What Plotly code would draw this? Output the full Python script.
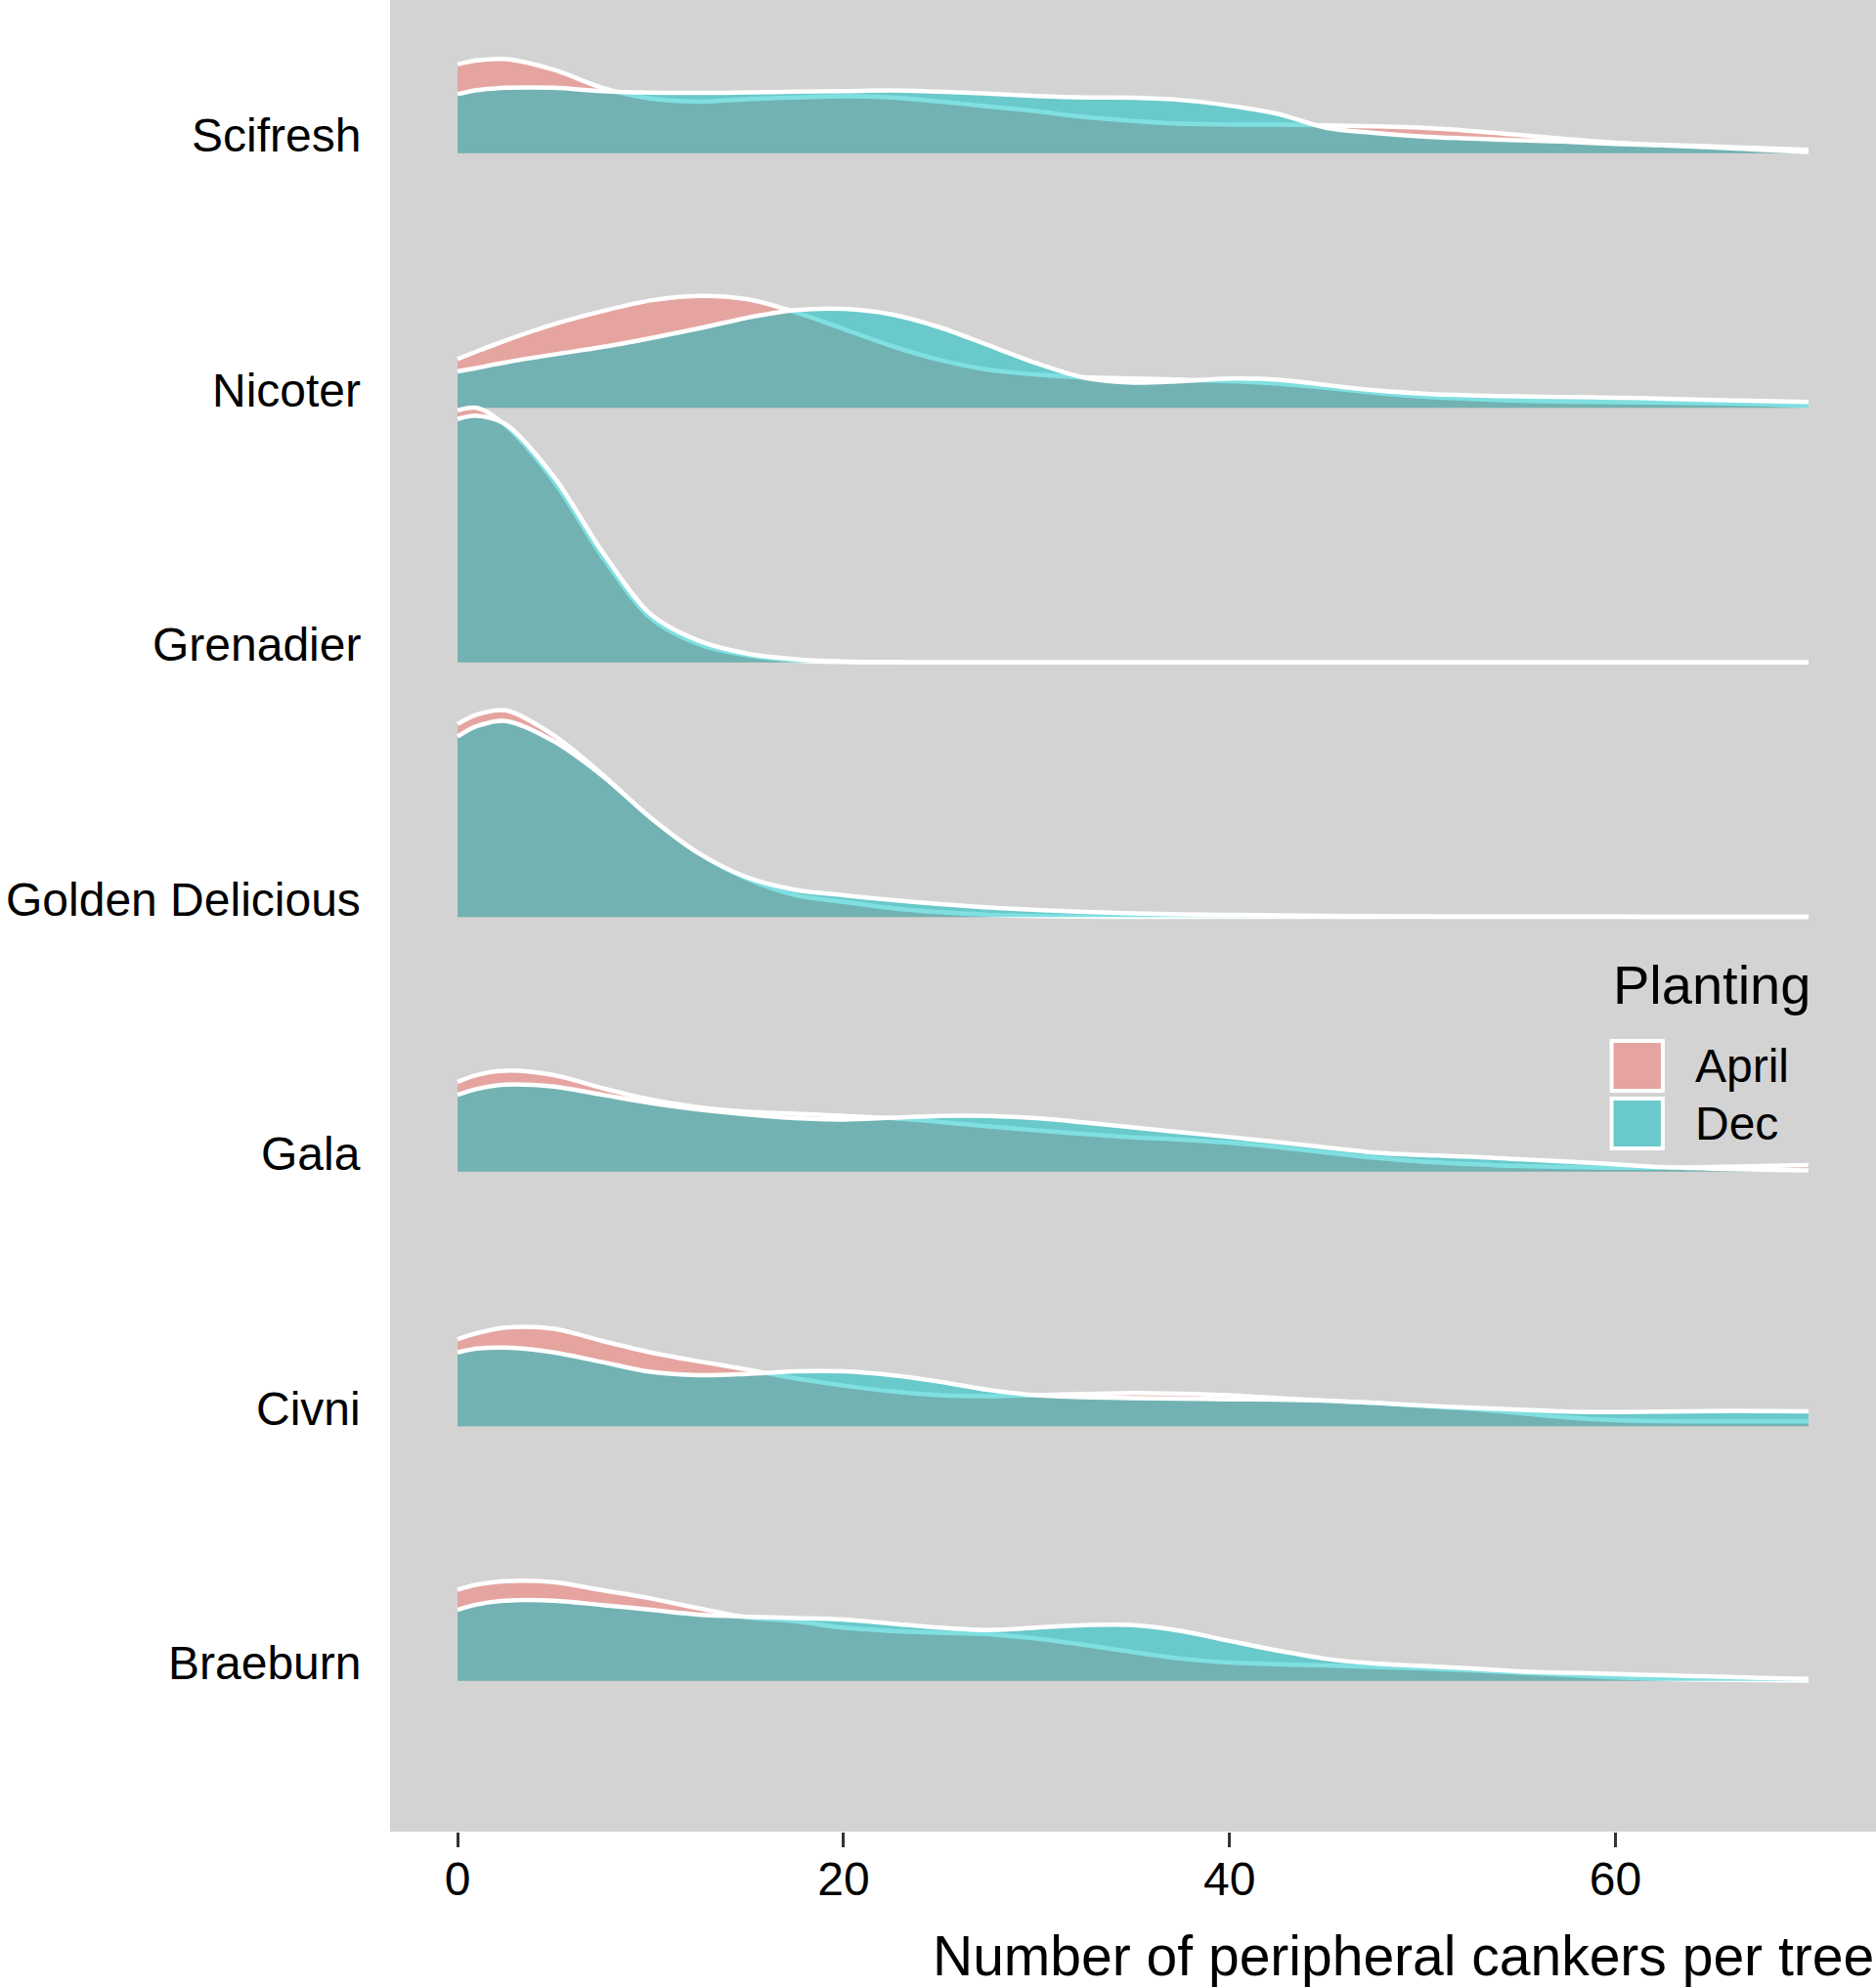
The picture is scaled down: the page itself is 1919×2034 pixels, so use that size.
import plotly.graph_objects as go

# ridge heights, in units of the row spacing
cultivars = ["Braeburn", "Civni", "Gala", "Golden Delicious", "Grenadier", "Nicoter", "Scifresh"]
plantings = ["April", "Dec"]
cankers = [0, 1, 2.5, 5, 7.5, 10, 12.5, 15, 17.5, 20, 22.5, 25, 27.5, 30, 32.5, 35,
           37.5, 40, 42.5, 45, 47.5, 50, 52.5, 55, 57.5, 60, 62.5, 65, 67.5, 70]

scifresh_april = [0.349, 0.365, 0.370, 0.328, 0.257, 0.215, 0.203, 0.212, 0.219, 0.224, 0.219, 0.203, 0.184, 0.165, 0.142,
                  0.127, 0.116, 0.113, 0.113, 0.110, 0.106, 0.100, 0.088, 0.072, 0.056, 0.042, 0.033, 0.027, 0.020, 0.014]
scifresh_dec = [0.232, 0.248, 0.257, 0.257, 0.244, 0.238, 0.237, 0.239, 0.242, 0.244, 0.247, 0.242, 0.234, 0.225, 0.219,
                0.218, 0.209, 0.187, 0.155, 0.100, 0.080, 0.066, 0.058, 0.051, 0.045, 0.037, 0.031, 0.023, 0.014, 0.005]
nicoter_april = [0.192, 0.222, 0.265, 0.329, 0.380, 0.422, 0.440, 0.427, 0.376, 0.310, 0.243, 0.188, 0.150, 0.131, 0.120,
                 0.115, 0.111, 0.105, 0.095, 0.079, 0.060, 0.044, 0.035, 0.028, 0.024, 0.022, 0.020, 0.018, 0.015, 0.008]
nicoter_dec = [0.143, 0.157, 0.179, 0.210, 0.239, 0.274, 0.312, 0.354, 0.384, 0.389, 0.367, 0.316, 0.246, 0.175, 0.118,
               0.099, 0.105, 0.115, 0.111, 0.090, 0.069, 0.056, 0.049, 0.045, 0.042, 0.040, 0.036, 0.031, 0.027, 0.023]
grenadier_april = [0.990, 1.000, 0.930, 0.710, 0.415, 0.175, 0.072, 0.028, 0.008, 0.002, 0.001, 0.0, 0.0, 0.0, 0.0,
                   0.0, 0.0, 0.0, 0.0, 0.0, 0.0, 0.0, 0.0, 0.0, 0.0, 0.0, 0.0, 0.0, 0.0, 0.0]
grenadier_dec = [0.956, 0.969, 0.935, 0.728, 0.435, 0.190, 0.085, 0.035, 0.013, 0.004, 0.001, 0.0, 0.0, 0.0, 0.0,
                 0.0, 0.0, 0.0, 0.0, 0.0, 0.0, 0.0, 0.0, 0.0, 0.0, 0.0, 0.0, 0.0, 0.0, 0.0]
golden_april = [0.758, 0.795, 0.812, 0.713, 0.560, 0.390, 0.250, 0.150, 0.086, 0.060, 0.035, 0.019, 0.009, 0.004, 0.002,
                0.001, 0.001, 0.001, 0.001, 0.001, 0.001, 0.001, 0.001, 0.001, 0.001, 0.001, 0.001, 0.001, 0.001, 0.001]
golden_dec = [0.709, 0.750, 0.770, 0.690, 0.555, 0.390, 0.250, 0.156, 0.107, 0.086, 0.067, 0.051, 0.038, 0.028, 0.020,
              0.015, 0.011, 0.009, 0.007, 0.005, 0.004, 0.003, 0.002, 0.002, 0.002, 0.002, 0.001, 0.001, 0.001, 0.001]
gala_april = [0.353, 0.380, 0.397, 0.379, 0.328, 0.283, 0.253, 0.235, 0.228, 0.219, 0.210, 0.195, 0.178, 0.162, 0.148,
              0.135, 0.126, 0.113, 0.096, 0.075, 0.055, 0.040, 0.030, 0.022, 0.018, 0.016, 0.016, 0.018, 0.022, 0.026]
gala_dec = [0.302, 0.325, 0.342, 0.334, 0.302, 0.270, 0.244, 0.225, 0.210, 0.205, 0.212, 0.219, 0.219, 0.210, 0.193,
            0.174, 0.155, 0.136, 0.116, 0.095, 0.075, 0.065, 0.059, 0.049, 0.040, 0.029, 0.018, 0.012, 0.008, 0.005]
civni_april = [0.342, 0.366, 0.388, 0.383, 0.335, 0.290, 0.255, 0.223, 0.188, 0.160, 0.137, 0.122, 0.118, 0.122, 0.127,
               0.131, 0.128, 0.122, 0.111, 0.100, 0.092, 0.080, 0.068, 0.052, 0.035, 0.024, 0.020, 0.019, 0.019, 0.019]
civni_dec = [0.290, 0.305, 0.309, 0.290, 0.252, 0.214, 0.201, 0.206, 0.216, 0.216, 0.201, 0.175, 0.143, 0.122, 0.114,
             0.111, 0.109, 0.106, 0.105, 0.101, 0.092, 0.082, 0.073, 0.065, 0.058, 0.056, 0.058, 0.060, 0.060, 0.059]
braeburn_april = [0.358, 0.378, 0.392, 0.388, 0.356, 0.324, 0.285, 0.250, 0.234, 0.209, 0.196, 0.189, 0.183, 0.166, 0.141,
                  0.113, 0.087, 0.072, 0.065, 0.061, 0.055, 0.049, 0.041, 0.032, 0.023, 0.014, 0.008, 0.005, 0.003, 0.001]
braeburn_dec = [0.279, 0.300, 0.315, 0.315, 0.298, 0.279, 0.260, 0.252, 0.247, 0.241, 0.225, 0.209, 0.200, 0.209, 0.219,
                0.219, 0.196, 0.157, 0.119, 0.087, 0.068, 0.059, 0.049, 0.038, 0.032, 0.027, 0.022, 0.017, 0.012, 0.008]

ridges = {
    "Braeburn": [braeburn_april, braeburn_dec],
    "Civni": [civni_april, civni_dec],
    "Gala": [gala_april, gala_dec],
    "Golden Delicious": [golden_april, golden_dec],
    "Grenadier": [grenadier_april, grenadier_dec],
    "Nicoter": [nicoter_april, nicoter_dec],
    "Scifresh": [scifresh_april, scifresh_dec],
}
fills = {"April": "rgba(248,118,109,0.5)", "Dec": "rgba(0,191,196,0.5)"}
font = "Liberation Sans, Arial, sans-serif"

fig = go.Figure()
# top ridge first so the lower ones overlap it
for i in reversed(range(len(cultivars))):
    name = cultivars[i]
    base = i + 1
    for p, heights in zip(plantings, ridges[name]):
        fig.add_trace(go.Scatter(x=cankers, y=[base] * len(cankers), mode='lines',
                                 line=dict(width=0, color='rgba(0,0,0,0)'),
                                 hoverinfo='skip', showlegend=False))
        fig.add_trace(go.Scatter(x=cankers, y=[base + h for h in heights], mode='lines',
                                 fill='tonexty', fillcolor=fills[p],
                                 line=dict(color='white', width=4.5, shape='spline', smoothing=0.9),
                                 name=p, showlegend=False))

annotations = []
for i, name in enumerate(cultivars):
    annotations.append(dict(x=0, xref='paper', xanchor='right', xshift=-28,
                            y=i + 1.069, yref='y', yanchor='middle', showarrow=False,
                            text=name, font=dict(size=48, color='black', family=font)))
annotations.append(dict(x=1, xref='paper', xanchor='right', y=-0.0678, yref='paper', yanchor='middle',
                        showarrow=False, text='Number of peripheral cankers per tree',
                        font=dict(size=57, color='black', family=font)))

# hand-made legend (big keys like the original)
annotations.append(dict(x=59.75, y=3.736, xanchor='left', yanchor='middle', showarrow=False,
                        text='Planting', font=dict(size=56, color='black', family=font)))
shapes = []
key_rows = [(3.514, 3.318), (3.287, 3.091)]
for p, (top, bottom) in zip(plantings, key_rows):
    shapes.append(dict(type='rect', x0=59.8, x1=62.45, y0=bottom, y1=top, xref='x', yref='y',
                       fillcolor=fills[p], line=dict(color='white', width=4)))
    annotations.append(dict(x=64.05, y=(top + bottom) / 2, xanchor='left', yanchor='middle', showarrow=False,
                            text=p, font=dict(size=48, color='black', family=font)))

fig.update_layout(
    width=1919, height=2034,
    margin=dict(l=399, r=0, t=0, b=160),
    paper_bgcolor='white', plot_bgcolor='#D3D3D3',
    font=dict(family=font, color='black'),
    annotations=annotations, shapes=shapes,
    xaxis=dict(range=[-3.5, 73.5], tickvals=[0, 20, 40, 60], ticks='outside', ticklen=15,
               tickwidth=2.5, tickcolor='#333333', tickfont=dict(size=48, color='black'),
               ticklabelstandoff=-9,
               showgrid=False, zeroline=False, showline=False),
    yaxis=dict(range=[0.408, 7.602], showticklabels=False, showgrid=False, zeroline=False,
               showline=False, ticks=''),
)

fig.write_html("out.html", config={'displayModeBar': False},
               post_script="document.body.style.margin='0';")
